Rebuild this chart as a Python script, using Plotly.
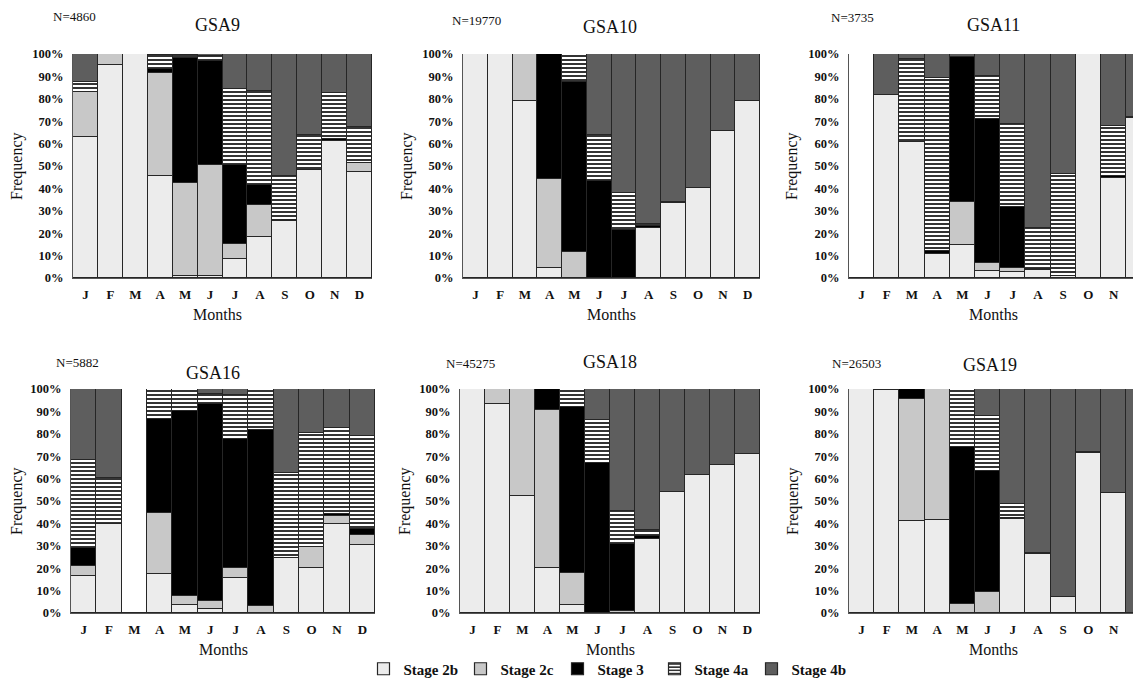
import plotly.graph_objects as go

W, H = 1141, 688
DX, DY = -8, -8  # page body margin offset compensation

months = ["J", "F", "M", "A", "M", "J", "J", "A", "S", "O", "N", "D"]
stages = ["Stage 2b", "Stage 2c", "Stage 3", "Stage 4a", "Stage 4b"]

panels = ["GSA9", "GSA10", "GSA11", "GSA16", "GSA18", "GSA19"]
n_labels = ["N=4860", "N=19770", "N=3735", "N=5882", "N=45275", "N=26503"]

# percentages per month (J..D) for each stage
gsa9_2b = [63, 95, 100, 45.5, 0.8, 1, 8.7, 18.4, 25.4, 48.2, 61.2, 47.5]
gsa9_2c = [20, 5, 0, 46, 41.5, 49.5, 6.7, 14.4, 0, 0, 0, 4]
gsa9_3 = [0, 0, 0, 2, 56, 46.2, 35, 8.7, 0.5, 0, 0.8, 0]
gsa9_4a = [4.5, 0, 0, 6, 1.2, 2.5, 34, 41.8, 19.8, 15.5, 20.5, 15.7]
gsa9_4b = [12.5, 0, 0, 0.5, 0.5, 0.8, 15.6, 16.7, 54.3, 36.3, 17.5, 32.8]

gsa10_2b = [100, 100, 79.1, 4.5, 0, 0, 0, 22.4, 33.6, 40.3, 65.8, 78.8]
gsa10_2c = [0, 0, 20.9, 39.7, 11.6, 0, 0, 0, 0, 0, 0, 0]
gsa10_3 = [0, 0, 0, 55.8, 75.9, 43.3, 21.6, 0.8, 0.5, 0, 0, 0]
gsa10_4a = [0, 0, 0, 0, 12.5, 20.6, 16.2, 1, 0, 0, 0, 0]
gsa10_4b = [0, 0, 0, 0, 0, 36.1, 62.2, 75.8, 65.9, 59.7, 34.2, 21.2]

gsa11_2b = [0, 81.6, 60.8, 10.9, 14.7, 3, 2.7, 3.4, 1, 100, 44.6, 71.5]
gsa11_2c = [0, 0, 0, 0, 19.4, 3.7, 1.8, 0, 0, 0, 0, 0]
gsa11_3 = [0, 0, 0, 1, 64.7, 64.1, 27.4, 0.5, 0, 0, 1, 0.5]
gsa11_4a = [0, 0, 37, 77.2, 0, 19.5, 36.7, 18.3, 45.4, 0, 22.2, 0]
gsa11_4b = [0, 18.4, 2.2, 10.9, 1.2, 9.7, 31.4, 77.8, 53.6, 0, 32.2, 28]

gsa16_2b = [16.4, 39.7, 0, 17.2, 3.4, 1.9, 15.7, 0, 24.6, 20.1, 39.7, 30.3]
gsa16_2c = [4.5, 0, 0, 27.6, 4.1, 3.3, 4.2, 3.1, 0, 9.2, 3.7, 4.5]
gsa16_3 = [8.2, 0, 0, 41.9, 82.9, 88.1, 57.7, 78.4, 0, 0, 0.7, 2.5]
gsa16_4a = [39.3, 20.4, 0, 13.3, 9.6, 4.6, 19.6, 18.5, 38.1, 51, 38.4, 41.8]
gsa16_4b = [31.6, 39.9, 0, 0, 0, 2.1, 2.8, 0, 37.3, 19.7, 17.5, 20.9]

gsa18_2b = [100, 93.1, 52.1, 20.2, 3.4, 0, 0, 33.2, 54.2, 61.8, 65.9, 71.1]
gsa18_2c = [0, 6.9, 47.9, 70.4, 14.6, 0, 1, 0, 0, 0, 0, 0]
gsa18_3 = [0, 0, 0, 9.4, 74, 66.9, 30, 1, 0, 0, 0, 0]
gsa18_4a = [0, 0, 0, 0, 8, 19.2, 14.7, 2.8, 0, 0, 0, 0]
gsa18_4b = [0, 0, 0, 0, 0, 13.9, 54.3, 63, 45.8, 38.2, 34.1, 28.9]

gsa19_2b = [100, 99.5, 41.2, 41.6, 0, 0, 41.9, 26.2, 7.2, 71.4, 53.6, 0]
gsa19_2c = [0, 0, 54.2, 58.4, 4.2, 9.3, 0, 0, 0, 0, 0, 0]
gsa19_3 = [0, 0.5, 4.6, 0, 69.9, 54.3, 0.5, 0.5, 0, 0.5, 0, 0]
gsa19_4a = [0, 0, 0, 0, 25.9, 24.4, 6.3, 0, 0, 0, 0, 0]
gsa19_4b = [0, 0, 0, 0, 0, 12, 51.3, 73.3, 92.8, 28.1, 46.4, 100]

data = [
    [gsa9_2b, gsa9_2c, gsa9_3, gsa9_4a, gsa9_4b],
    [gsa10_2b, gsa10_2c, gsa10_3, gsa10_4a, gsa10_4b],
    [gsa11_2b, gsa11_2c, gsa11_3, gsa11_4a, gsa11_4b],
    [gsa16_2b, gsa16_2c, gsa16_3, gsa16_4a, gsa16_4b],
    [gsa18_2b, gsa18_2c, gsa18_3, gsa18_4a, gsa18_4b],
    [gsa19_2b, gsa19_2c, gsa19_3, gsa19_4a, gsa19_4b],
]

colors = ["#ececec", "#c8c8c8", "#000000", "#ffffff", "#5e5e5e"]
SERIF = "Liberation Serif"


def px(x):
    return (x + DX) / W


def py(y):
    return 1 - (y + DY) / H


# panel geometry in screen pixels: x0, x1, y_top, y_bottom, slot width
geom = [
    (73, 372, 54, 278, None),
    (463, 760, 54, 278, None),
    (849, 1149, 54, 278, 25.2),
    (71, 375, 389, 613, None),
    (460, 760, 389, 613, None),
    (849, 1149, 389, 613, 25.2),
]
title_pos = [(217, 25), (610, 27), (993, 25), (213, 373), (610, 362), (990, 365)]
n_pos = [(74, 16), (476, 20), (852, 17), (77, 362), (470, 363), (856, 363)]
months_x = [217, 611, 993, 223, 610, 993]
freq_x = [17, 407, 792, 17, 405, 793]

fig = go.Figure()
layout = {}
annotations = []
for p in range(6):
    ax = "" if p == 0 else str(p + 1)
    xname, yname = "x" + ax, "y" + ax
    for s in range(5):
        marker = dict(color=colors[s], line=dict(color="#262626", width=1.2))
        if s == 3:
            marker["pattern"] = dict(shape="-", fgcolor="#000000", bgcolor="#ffffff",
                                     size=4, solidity=0.4, fillmode="replace")
        fig.add_trace(go.Bar(
            x=list(range(12)), y=data[p][s], name=stages[s], marker=marker,
            xaxis=xname, yaxis=yname, showlegend=(p == 0), legendgroup=stages[s],
        ))
    x0, x1, yt, yb, slot = geom[p]
    d1 = min(px(x1), 1.0)
    if slot is None:
        xr = [-0.5, 11.5]
    else:
        xr = [-0.5, -0.5 + (d1 - px(x0)) * W / slot]
    layout["xaxis" + ax] = dict(
        domain=[px(x0), d1], anchor=yname, range=xr,
        tickmode="array", tickvals=list(range(12)), ticktext=months,
        tickfont=dict(family=SERIF, size=13, color="#111", weight="bold"),
        ticklabelstandoff=4,
        showline=True, linecolor="#555", linewidth=1, showgrid=False,
        ticks="", zeroline=False, fixedrange=True, automargin=False,
    )
    layout["yaxis" + ax] = dict(
        domain=[py(yb), py(yt)], anchor=xname, range=[0, 100],
        tickmode="array", tickvals=list(range(0, 101, 10)),
        ticktext=[f"{v}%" for v in range(0, 101, 10)],
        tickfont=dict(family=SERIF, size=12.5, color="#111", weight="bold"),
        ticklabelstandoff=6,
        showline=True, linecolor="#555", linewidth=1, showgrid=False,
        ticks="", zeroline=False, fixedrange=True, automargin=False,
    )
    tx, ty = title_pos[p]
    annotations.append(dict(text=panels[p], x=px(tx), y=py(ty), xref="paper", yref="paper",
                            showarrow=False, font=dict(family=SERIF, size=18, color="#111"),
                            xanchor="center", yanchor="middle"))
    nx, ny = n_pos[p]
    annotations.append(dict(text=n_labels[p], x=px(nx), y=py(ny), xref="paper", yref="paper",
                            showarrow=False, font=dict(family=SERIF, size=13, color="#111"),
                            xanchor="center", yanchor="middle"))
    annotations.append(dict(text="Frequency", x=px(freq_x[p]), y=py((yt + yb) / 2),
                            xref="paper", yref="paper", textangle=-90, showarrow=False,
                            font=dict(family=SERIF, size=16, color="#111"),
                            xanchor="center", yanchor="middle"))
    annotations.append(dict(text="Months", x=px(months_x[p]), y=py(yb + 36),
                            xref="paper", yref="paper", showarrow=False,
                            font=dict(family=SERIF, size=16, color="#111"),
                            xanchor="center", yanchor="middle"))

fig.update_layout(
    **layout,
    annotations=annotations,
    barmode="stack", bargap=0,
    width=W, height=H,
    margin=dict(l=0, r=0, t=0, b=0),
    paper_bgcolor="white", plot_bgcolor="white",
    legend=dict(orientation="h", x=px(606), xanchor="center", y=py(669), yanchor="middle",
                font=dict(family=SERIF, size=15, color="#111", weight="bold"),
                itemwidth=30, entrywidth=52, entrywidthmode="pixels",
                traceorder="normal", bgcolor="rgba(0,0,0,0)"),
)

fig.write_html("out.html")
